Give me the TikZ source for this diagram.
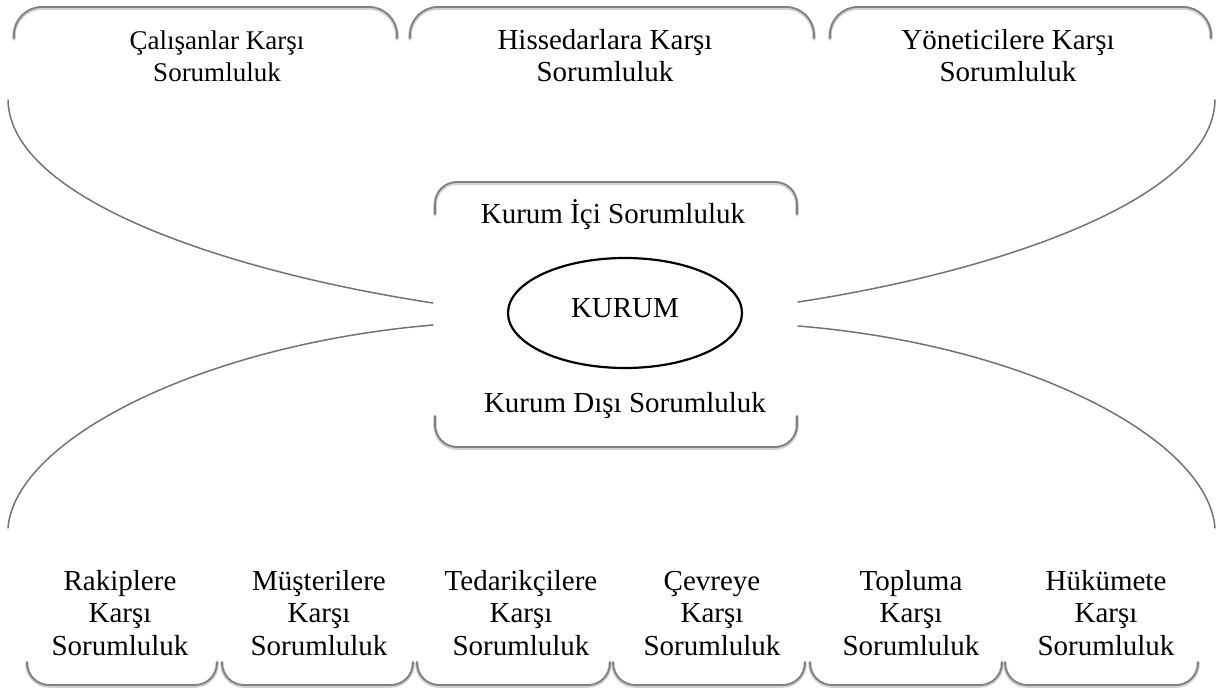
\documentclass[tikz,border=0pt]{standalone}
\usepackage{fontspec}
\setmainfont{Liberation Serif}
\usetikzlibrary{shapes.geometric}
\newcommand{\firstline}{\rule{0pt}{26pt}}
\begin{document}
\begin{tikzpicture}[x=1pt,y=-1pt,
  rim/.style={draw=black!50, line width=1.8pt, line cap=round},
  rimshade/.style={draw=black!18, line width=3.6pt, line cap=round, yshift=-1pt},
  link/.style={draw=black!55, line width=1.5pt, line cap=round},
  lbl/.style={font=\fontsize{29}{32.5}\selectfont, align=center, inner sep=0pt},
  core/.style={draw=black, line width=2.2pt, ellipse, inner sep=0pt,
    minimum width=234pt, minimum height=110pt,
    font=\fontsize{29}{32.5}\selectfont, text height=20pt, text depth=12pt},
]
\useasboundingbox (0,0) rectangle (1224,690);

% upper group frames (open at the bottom)
\foreach \xl/\xr in {14/397, 410/814, 830/1211}{
  \draw[rimshade, rounded corners=28pt] (\xl,38) -- (\xl,7) -- (\xr,7) -- (\xr,38);
  \draw[rim, rounded corners=28pt] (\xl,38) -- (\xl,7) -- (\xr,7) -- (\xr,38);
}
% lower group frames (open at the top)
\foreach \xl/\xr in {27/217, 222/413, 417/610, 613/805, 810/1002, 1005/1198}{
  \draw[rimshade, rounded corners=22pt] (\xl,662) -- (\xl,685) -- (\xr,685) -- (\xr,662);
  \draw[rim, rounded corners=22pt] (\xl,662) -- (\xl,685) -- (\xr,685) -- (\xr,662);
}
% central frame, top and bottom halves
\draw[rimshade, rounded corners=22pt] (435,214) -- (435,182) -- (797,182) -- (797,214);
\draw[rim, rounded corners=22pt] (435,214) -- (435,182) -- (797,182) -- (797,214);
\draw[rimshade, rounded corners=22pt] (435,416) -- (435,447) -- (797,447) -- (797,416);
\draw[rim, rounded corners=22pt] (435,416) -- (435,447) -- (797,447) -- (797,416);

% labels of the upper groups
\node[lbl, anchor=north, font=\fontsize{27}{32.5}\selectfont] (calisan) at (217,23)
  {\firstline Çalışanlar Karşı\\Sorumluluk};
\node[lbl, anchor=north] (hissedar) at (605,23) {\firstline Hissedarlara Karşı\\Sorumluluk};
\node[lbl, anchor=north] (yonetici) at (1008,23) {\firstline Yöneticilere Karşı\\Sorumluluk};

% labels of the lower groups
\node[lbl, anchor=north] (rakip) at (120,564) {\firstline Rakiplere\\Karşı\\Sorumluluk};
\node[lbl, anchor=north] (musteri) at (319,564) {\firstline Müşterilere\\Karşı\\Sorumluluk};
\node[lbl, anchor=north] (tedarik) at (521,564) {\firstline Tedarikçilere\\Karşı\\Sorumluluk};
\node[lbl, anchor=north] (cevre) at (712,564) {\firstline Çevreye\\Karşı\\Sorumluluk};
\node[lbl, anchor=north] (toplum) at (911,564) {\firstline Topluma\\Karşı\\Sorumluluk};
\node[lbl, anchor=north] (hukumet) at (1106,564) {\firstline Hükümete\\Karşı\\Sorumluluk};

% centre
\node[lbl, anchor=base] (ici) at (613,223) {Kurum İçi Sorumluluk};
\node[core] (kurum) at (625,313) {KURUM};
\node[lbl, anchor=base] (disi) at (625,412) {Kurum Dışı Sorumluluk};

% end points of the sweeping connectors
\coordinate (ul) at (8,100);
\coordinate (ll) at (8,528);
\coordinate (ur) at (1215,100);
\coordinate (lr) at (1215,528);
\coordinate (cl1) at (433,303);
\coordinate (cl2) at (433,325);
\coordinate (cr1) at (798,302);
\coordinate (cr2) at (798,326);

\draw[link] (ul) .. controls (10,200) and (230,272) .. (cl1);
\draw[link] (ll) .. controls (15,440) and (200,345) .. (cl2);
\draw[link] (ur) .. controls (1213,200) and (995,272) .. (cr1);
\draw[link] (lr) .. controls (1208,440) and (1030,345) .. (cr2);
\end{tikzpicture}
\end{document}
